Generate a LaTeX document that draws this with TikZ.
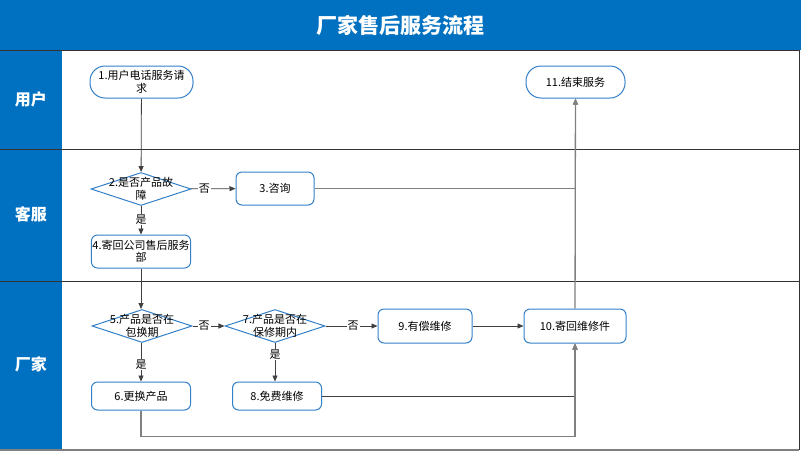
\documentclass[tikz,border=0pt]{standalone}
\usepackage{fontspec}
\setmainfont{Noto Sans CJK SC}
\usetikzlibrary{arrows.meta,shapes.geometric,positioning}
\definecolor{titleblue}{RGB}{0,112,192}
\definecolor{nodeblue}{RGB}{52,128,200}
\definecolor{linegray}{RGB}{128,128,128}

\begin{document}
\begin{tikzpicture}[
            x=1pt, y=-1pt,
            every node/.style={font=\fontsize{11}{12.5}\selectfont},
            terminal/.style={rectangle, rounded corners=15pt, draw=nodeblue, fill=white, line width=1pt, minimum height=32pt, align=center, inner sep=1pt},
            process/.style={rectangle, rounded corners=6pt, draw=nodeblue, fill=white, line width=1pt, align=center, inner sep=1pt},
            decision/.style={diamond, draw=nodeblue, fill=white, line width=1pt, minimum width=100pt, minimum height=33pt, inner sep=0pt},
            lanetext/.style={text=white, font=\fontsize{16}{18}\selectfont\bfseries},
            choice/.style={fill=white, inner sep=1pt},
            arrow/.style={-{Triangle[length=6pt, width=5pt]}, draw=black!75, line width=0.8pt},
            grayarrow/.style={-{Triangle[length=6pt, width=5pt]}, draw=linegray, line width=1.3pt}
        ]
            \useasboundingbox (0,0) rectangle (801,451);

            % Title and lanes
            \fill[titleblue] (0,0) rectangle (801,50);
            \node[text=white, font=\fontsize{21}{24}\selectfont\bfseries] (title) at (400,25) {厂家售后服务流程};
            \fill[titleblue] (0,50) rectangle (62,450);
            \draw[black!80, line width=1pt] (0,50) -- (799,50) -- (799,450);
            \draw[black!80, line width=1pt] (0,149) -- (799,149);
            \draw[black!80, line width=1pt] (0,281) -- (799,281);
            \draw[linegray, line width=1.5pt] (0,450) -- (799,450);
            \node[lanetext] (user) at (31,99) {用户};
            \node[lanetext] (service) at (31,214) {客服};
            \node[lanetext] (factory) at (31,364) {厂家};

            % 用户
            \node[terminal, minimum width=103pt] (request) at (141.5,82) {1.用户电话服务请\\求};
            \node[terminal, minimum width=99pt] (finish) at (575.5,82) {11.结束服务};

            % 客服
            \node[decision, label={[align=center]center:2.是否产品故\\障}] (fault) at (141,189) {};
            \node[process, minimum width=78pt, minimum height=33pt] (consult) at (275,188.5) {3.咨询};
            \node[process, minimum width=98pt, minimum height=33pt] (sendback) at (141,251.5) {4.寄回公司售后服务\\部};

            % 厂家
            \node[decision, label={[align=center]center:5.产品是否在\\包换期}] (exchange) at (142,326) {};
            \node[decision, label={[align=center]center:7.产品是否在\\保修期内}] (warranty) at (275,326) {};
            \node[process, minimum width=99pt, minimum height=28pt] (replace) at (141,396) {6.更换产品};
            \node[process, minimum width=89pt, minimum height=28pt] (freerepair) at (277,396) {8.免费维修};
            \node[process, minimum width=94pt, minimum height=34pt] (paidrepair) at (425,326) {9.有偿维修};
            \node[process, minimum width=102pt, minimum height=34pt] (returnpart) at (575,326) {10.寄回维修件};

            % Arrows
            \draw[arrow] (request) -- (fault);
            \draw[arrow] (fault) -- node[choice, pos=0.3] {否} (consult);
            \draw[arrow] (fault) -- node[choice, pos=0.47] {是} (sendback);
            \draw[arrow] (sendback) -- (sendback |- exchange.north);
            \draw[arrow] (exchange) -- node[choice, pos=0.36] {否} (warranty);
            \draw[arrow] (exchange.south -| replace) -- node[choice, pos=0.56] {是} (replace);
            \draw[arrow] (warranty) -- node[choice, pos=0.53] {否} (paidrepair);
            \draw[arrow] (warranty.south) -- node[choice, pos=0.3] {是} (warranty.south |- freerepair.north);
            \draw[arrow] (paidrepair) -- (returnpart);
            \draw[grayarrow] (consult) -| (finish);
            \draw[grayarrow] (returnpart) -- (finish);
            \draw[arrow] (freerepair) -| (returnpart);
            \draw[grayarrow] (replace.south) -- ++(0,26) -| (returnpart);

        \end{tikzpicture}
\end{document}
